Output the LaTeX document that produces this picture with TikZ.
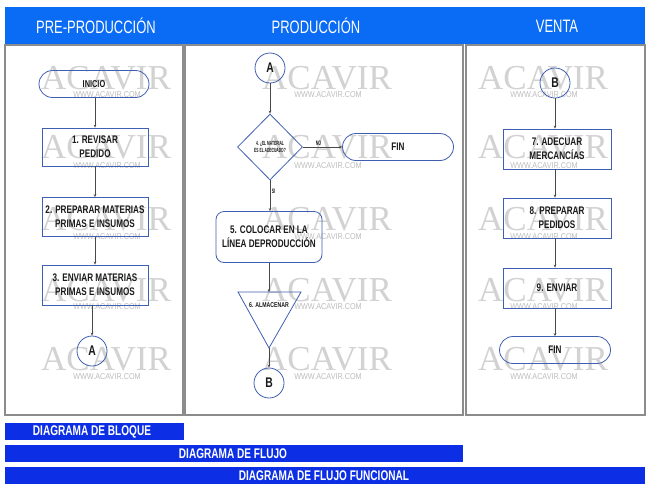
\documentclass[tikz,border=0pt]{standalone}
\usepackage{fontspec}
\setmainfont{Liberation Sans}
\newfontfamily\hdrfont[FakeStretch=0.72]{Liberation Sans}
\newfontfamily\condfont[FakeStretch=0.74]{Liberation Sans}
\newfontfamily\xcondfont[FakeStretch=0.55]{Liberation Sans}
\newfontfamily\wmserif{Liberation Serif}
\newfontfamily\wmsans[FakeStretch=0.85]{Liberation Sans}
\usetikzlibrary{shapes.geometric,shapes.misc,arrows.meta}
\definecolor{hdrblue}{HTML}{0A6BF5}
\definecolor{barblue}{HTML}{0C2FE6}
\definecolor{nodeblue}{HTML}{3F5FB0}
\definecolor{lanegray}{HTML}{8C8C8C}
\definecolor{wmgray}{HTML}{D2D2D2}
\definecolor{wmgray2}{HTML}{BDBDBD}
\definecolor{inkc}{HTML}{1A1A1A}
\begin{document}
\begin{tikzpicture}[x=1pt,y=-1pt,
  lane/.style={draw=lanegray,line width=1.3pt},
  hdrtext/.style={text=white,font=\hdrfont\fontsize{18}{20}\selectfont},
  bartext/.style={text=white,font=\hdrfont\bfseries\fontsize{14}{16}\selectfont},
  procbox/.style={draw=nodeblue,line width=0.8pt,rectangle,minimum width=106pt,minimum height=39pt,inner sep=1pt,font=\condfont\bfseries\fontsize{11}{14}\selectfont,text=inkc,align=center},
  termbox/.style={draw=nodeblue,line width=0.8pt,rounded rectangle,minimum width=112pt,minimum height=27pt,inner sep=1pt,font=\condfont\bfseries\fontsize{11}{13}\selectfont,text=inkc},
  connector/.style={draw=nodeblue,line width=0.8pt,circle,minimum size=30pt,inner sep=0pt,font=\condfont\bfseries\fontsize{14}{16}\selectfont,text=inkc},
  decision/.style={draw=nodeblue,line width=0.8pt,diamond,minimum width=65pt,minimum height=66pt,inner sep=0pt,font=\xcondfont\bfseries\fontsize{6}{7.5}\selectfont,text=inkc,align=center},
  smalllbl/.style={font=\xcondfont\bfseries\fontsize{6.5}{7}\selectfont,text=inkc,inner sep=1.5pt},
  arr/.style={draw=inkc!80,line width=0.6pt,-{Stealth[length=3pt,width=2.6pt]}},
  wmbig/.style={text=wmgray,font=\wmserif\fontsize{35}{36}\selectfont,inner sep=0pt},
  wmsmall/.style={text=wmgray2,font=\wmsans\fontsize{8.5}{9}\selectfont,inner sep=0pt}
]
\useasboundingbox[fill=white] (0,0) rectangle (650,491);

% header
\fill[hdrblue] (5,7) rectangle (645,44);
\node[hdrtext] (h1) at (96,26) {PRE-PRODUCCIÓN};
\node[hdrtext] (h2) at (316,26) {PRODUCCIÓN};
\node[hdrtext] (h3) at (557,26) {VENTA};

% lanes
\draw[lane] (5,45) rectangle (183,415);
\draw[lane] (185,45) rectangle (463,415);
\draw[lane] (466,45) rectangle (645,415);

% watermarks
\foreach \cx [count=\i] in {106,327,543}{
  \foreach \ya/\yb [count=\j] in {78/95,147/166,219/237,290/307,359/377}{
    \node[wmbig] (wma\i\j) at (\cx,\ya) {ACAVIR};
    \node[wmsmall] (wmb\i\j) at (\cx+1,\yb) {WWW.ACAVIR.COM};
  }
}

% bottom bars
\fill[barblue] (5,423) rectangle (184,440);
\node[bartext] (b1) at (92,431.5) {DIAGRAMA DE BLOQUE};
\fill[barblue] (5,445) rectangle (463,462);
\node[bartext] (b2) at (233,453.5) {DIAGRAMA DE FLUJO};
\fill[barblue] (5,467) rectangle (645,484);
\node[bartext] (b3) at (324,475.5) {DIAGRAMA DE FLUJO FUNCIONAL};

% left lane
\node[termbox,minimum width=112pt,font=\condfont\bfseries\fontsize{10}{12}\selectfont] (inicio) at (94,84) {INICIO};
\node[procbox,minimum height=38pt] (p1) at (95,147) {1. REVISAR\\PEDIDO};
\node[procbox] (p2) at (95,217) {2. PREPARAR MATERIAS\\PRIMAS E INSUMOS};
\node[procbox,minimum height=40pt] (p3) at (95,285) {3. ENVIAR MATERIAS\\PRIMAS E INSUMOS};
\node[connector] (ca) at (92,351) {A};
\draw[arr] (inicio.south -| p1.north) -- (p1.north);
\draw[arr] (p1) -- (p2);
\draw[arr] (p2) -- (p3);
\draw[arr] (p3.south -| ca.north) -- (ca.north);

% middle lane
\node[connector] (ca2) at (270,68) {A};
\node[decision] (dec) at (270,147) {4. ¿EL MATERIAL\\ES EL ADECUADO?};
\node[termbox,minimum width=113pt] (fin1) at (398,147) {FIN};
\node[procbox,rounded corners=8pt,minimum height=51pt] (p5) at (269,237) {5. COLOCAR EN LA\\LÍNEA DEPRODUCCIÓN};
\coordinate (trtop) at (269,292);
\coordinate (trl) at (238,292);
\coordinate (trr) at (301,292);
\coordinate (trapex) at (269,348);
\draw[draw=nodeblue,line width=0.8pt,line join=miter] (trl) -- (trr) -- (trapex) -- cycle;
\node[font=\condfont\bfseries\fontsize{7}{8}\selectfont,text=inkc,inner sep=0pt] (p6) at (269,305) {6. ALMACENAR};
\node[connector] (cb) at (269,383) {B};
\draw[arr] (ca2) -- (dec);
\draw[arr] (dec) -- node[smalllbl,above,pos=0.4] (no) {NO} (fin1);
\draw[arr] (dec.south) -- node[smalllbl,right,pos=0.35] (si) {SI} (p5.north -| dec.south);
\draw[arr] (p5.south) -- (trtop);
\draw[arr] (trapex) -- (cb.north);

% right lane
\node[connector] (cb2) at (555,83) {B};
\node[procbox,minimum width=108pt,minimum height=40pt] (p7) at (557,149) {7. ADECUAR\\MERCANCÍAS};
\node[procbox,minimum width=108pt,minimum height=40pt] (p8) at (557,218) {8. PREPARAR\\PEDIDOS};
\node[procbox,minimum width=108pt,minimum height=40pt] (p9) at (557,288) {9. ENVIAR};
\node[termbox,minimum width=113pt] (fin2) at (555,350) {FIN};
\draw[arr] (cb2.south) -- (cb2.south |- p7.north);
\draw[arr] (p7.south -| cb2.south) -- (cb2.south |- p8.north);
\draw[arr] (p8.south -| cb2.south) -- (cb2.south |- p9.north);
\draw[arr] (p9.south -| cb2.south) -- (fin2.north -| cb2.south);
\end{tikzpicture}
\end{document}
